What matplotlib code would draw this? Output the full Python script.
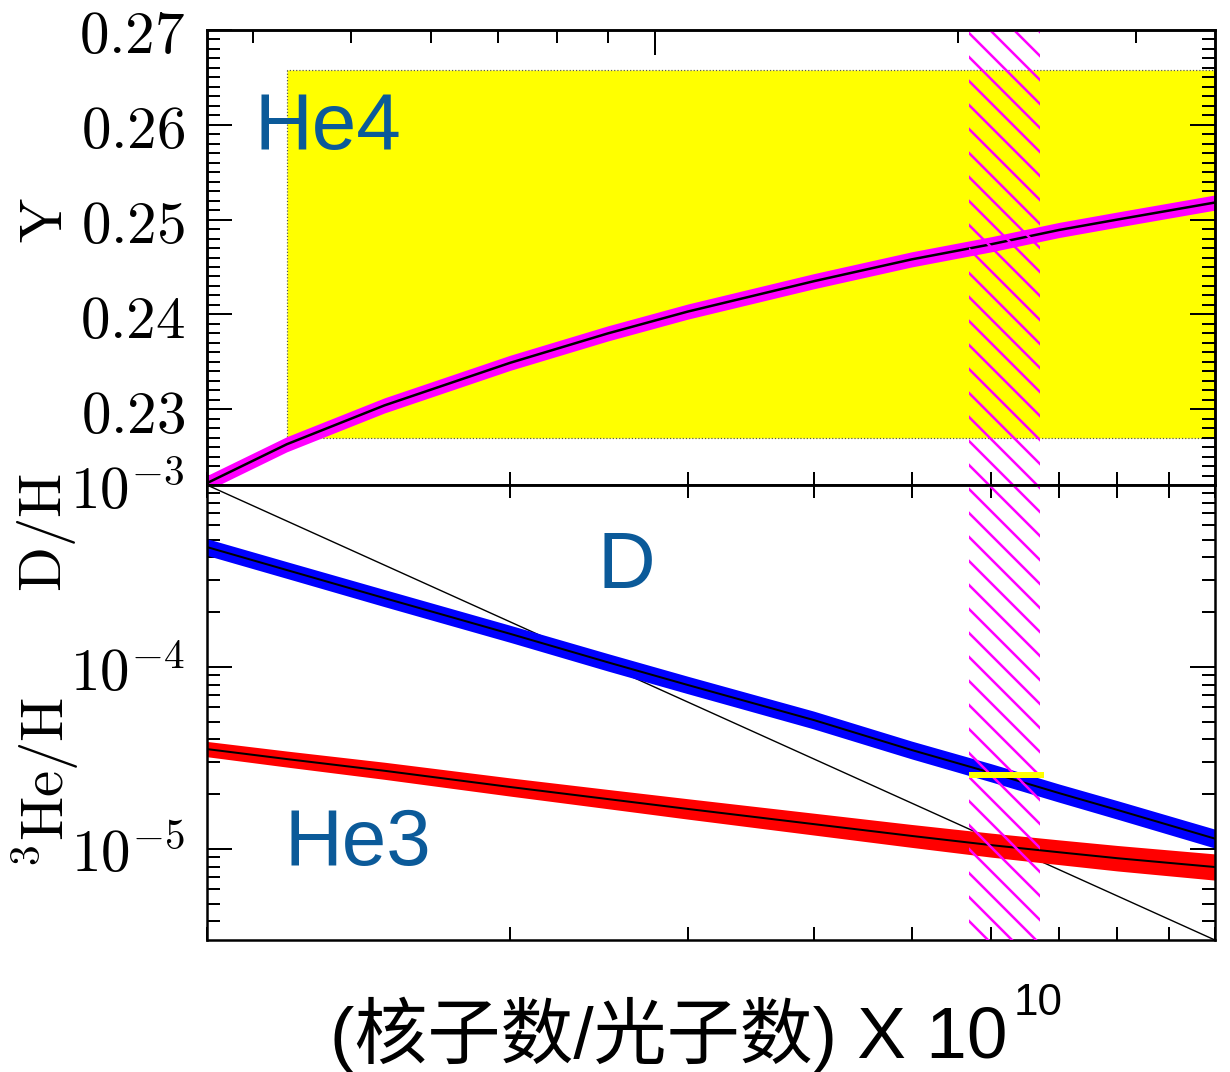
import matplotlib
matplotlib.use("Agg")
import matplotlib.pyplot as plt
import numpy as np
from matplotlib.ticker import FixedLocator, FuncFormatter, LogLocator, MultipleLocator, NullFormatter

plt.rcParams['font.family'] = ['Noto Sans CJK SC', 'DejaVu Sans']
plt.rcParams['mathtext.fontset'] = 'cm'
plt.rcParams['hatch.linewidth'] = 2.5

# baryon-to-photon ratio x 10^10
eta = [1.0, 1.2, 1.5, 2.0, 2.5, 3.0, 4.0, 5.0, 6.0, 7.0, 8.0, 10.0]

# He4 mass fraction
he4 = [0.2222, 0.2263, 0.2304, 0.2349, 0.2380, 0.2403, 0.2435, 0.2458, 0.2474, 0.2489, 0.2500, 0.2518]
he4_err = [0.0008, 0.0008, 0.0008, 0.0008, 0.0008, 0.0008, 0.0008, 0.0008, 0.0008, 0.0008, 0.0008, 0.0008]

# D/H and He3/H, errors in dex
dh = [4.56e-4, 3.41e-4, 2.39e-4, 1.52e-4, 1.06e-4, 7.96e-5, 5.11e-5, 3.50e-5, 2.62e-5, 2.03e-5, 1.64e-5, 1.14e-5]
dh_err = [0.046, 0.046, 0.047, 0.047, 0.048, 0.048, 0.049, 0.049, 0.050, 0.050, 0.051, 0.052]
he3 = [3.54e-5, 3.12e-5, 2.69e-5, 2.19e-5, 1.88e-5, 1.66e-5, 1.37e-5, 1.18e-5, 1.05e-5, 9.6e-6, 8.9e-6, 7.96e-6]
he3_err = [0.042, 0.044, 0.047, 0.050, 0.053, 0.056, 0.060, 0.063, 0.066, 0.068, 0.070, 0.072]

# thin diagonal reference line
diag_eta = [1.0, 10.0]
diag_y = [1e-3, 3.16e-6]

# observations
he4_obs_eta = [1.2, 10.0]
he4_obs = [0.2270, 0.2658]
cmb_eta = [5.70, 6.70]
d_obs_eta = [5.70, 6.77]
d_obs = [2.55e-5, 2.55e-5]

he4_ticks = [0.23, 0.24, 0.25, 0.26, 0.27]
omega_major = [0.01]
omega_minor = [0.004, 0.005, 0.006, 0.007, 0.008, 0.009, 0.02, 0.03]
ETA_PER_OMEGA = 278.0

W, H = 1230, 1072
fig = plt.figure(figsize=(W / 72, H / 72), dpi=72)
ax1 = fig.add_axes([207 / W, 1 - 485 / H, 1008 / W, 455 / H])
ax2 = fig.add_axes([207 / W, 1 - 940 / H, 1008 / W, 455 / H])

lab_size = 59
blue_txt = '#0B5A99'
tick_w = 2

# ---- top panel: He4
ax1.set_xscale('log')
ax1.set_xlim(1, 10)
ax1.set_ylim(0.222, 0.27)
ax1.fill_between(he4_obs_eta, he4_obs[0], he4_obs[1], facecolor='#FFFF00',
                 edgecolor='#555555', linestyle=':', linewidth=1.2, zorder=1)
he4_a = np.array(he4)
he4_e = np.array(he4_err)
ax1.fill_between(eta, he4_a - he4_e, he4_a + he4_e, color='#FF00FF', linewidth=0, zorder=2)
ax1.plot(eta, he4, color='black', lw=2.5, zorder=3)
ax1.axvspan(cmb_eta[0], cmb_eta[1], facecolor='none', edgecolor='#FF00FF', linewidth=0,
            hatch='\\', zorder=4)

ax1.yaxis.set_major_locator(FixedLocator(he4_ticks))
ax1.yaxis.set_minor_locator(MultipleLocator(0.001))
ax1.yaxis.set_major_formatter(FuncFormatter(lambda v, p: rf'${v:.2f}$'))
ax1.tick_params(axis='y', which='both', direction='in', left=True, right=True, width=tick_w)
ax1.tick_params(axis='y', which='major', length=25, labelsize=lab_size, pad=22)
ax1.tick_params(axis='y', which='minor', length=13)
ax1.tick_params(axis='x', which='both', direction='in', top=False, bottom=True,
                labelbottom=False, width=tick_w, length=13)
ax1.text(0.047, 0.738, 'He4', transform=ax1.transAxes, fontsize=80, color=blue_txt,
         family='Liberation Sans', va='baseline', zorder=6)

# top axis in Omega_b h^2
top = ax1.twiny()
top.set_xscale('log')
top.set_xlim(1 / ETA_PER_OMEGA, 10 / ETA_PER_OMEGA)
top.xaxis.set_major_locator(FixedLocator(omega_major))
top.xaxis.set_minor_locator(FixedLocator(omega_minor))
top.xaxis.set_major_formatter(NullFormatter())
top.xaxis.set_minor_formatter(NullFormatter())
top.tick_params(axis='x', which='both', direction='in', top=True, bottom=False, width=tick_w)
top.tick_params(axis='x', which='major', length=25)
top.tick_params(axis='x', which='minor', length=13)

# ---- bottom panel: D and He3
ax2.set_xscale('log')
ax2.set_yscale('log')
ax2.set_xlim(1, 10)
ax2.set_ylim(10 ** -5.5, 1e-3)
ax2.plot(diag_eta, diag_y, color='black', lw=1.4, zorder=2)
dh_a = np.array(dh)
dh_e = np.array(dh_err)
ax2.fill_between(eta, dh_a * 10 ** -dh_e, dh_a * 10 ** dh_e, color='#0000FF', linewidth=0, zorder=2)
ax2.plot(eta, dh, color='black', lw=2, zorder=3)
he3_a = np.array(he3)
he3_e = np.array(he3_err)
ax2.fill_between(eta, he3_a * 10 ** -he3_e, he3_a * 10 ** he3_e, color='#FF0000', linewidth=0, zorder=2)
ax2.plot(eta, he3, color='black', lw=2, zorder=3)
ax2.axvspan(cmb_eta[0], cmb_eta[1], facecolor='none', edgecolor='#FF00FF', linewidth=0,
            hatch='\\', zorder=4)
ax2.plot(d_obs_eta, d_obs, color='#FFFF00', lw=6, solid_capstyle='butt', zorder=5)

ax2.yaxis.set_major_locator(LogLocator(base=10, numticks=10))
ax2.yaxis.set_minor_locator(LogLocator(base=10, subs=np.arange(2, 10), numticks=20))
ax2.yaxis.set_major_formatter(FuncFormatter(lambda v, p: rf'$10^{{{int(round(np.log10(v)))}}}$'))
ax2.yaxis.set_minor_formatter(NullFormatter())
ax2.tick_params(axis='y', which='both', direction='in', left=True, right=True, width=tick_w)
ax2.tick_params(axis='y', which='major', length=25, labelsize=lab_size, pad=22)
ax2.tick_params(axis='y', which='minor', length=13)
ax2.tick_params(axis='x', which='both', direction='in', top=True, bottom=True,
                labelbottom=False, width=tick_w, length=13)
ax2.text(0.387, 0.774, 'D', transform=ax2.transAxes, fontsize=80, color=blue_txt,
         family='Liberation Sans', va='baseline', zorder=6)
ax2.text(0.077, 0.165, 'He3', transform=ax2.transAxes, fontsize=80, color=blue_txt,
         family='Liberation Sans', va='baseline', zorder=6)

for ax in (ax1, ax2, top):
    for s in ax.spines.values():
        s.set_linewidth(2.5)
for ax in (ax1, ax2):
    ax.xaxis.set_minor_formatter(NullFormatter())
    ax.xaxis.set_major_formatter(NullFormatter())

# axis labels
fig.text(46 / W, 1 - 220 / H, r'$\mathrm{Y}$', rotation=90, ha='center', va='center', fontsize=lab_size)
fig.text(46 / W, 1 - 533 / H, r'$\mathrm{D/H}$', rotation=90, ha='center', va='center', fontsize=lab_size)
fig.text(46 / W, 1 - 782 / H, r'$^{3}\mathrm{He/H}$', rotation=90, ha='center', va='center', fontsize=lab_size)

xl = fig.text(669 / W, 1 - 1058 / H, '(核子数/光子数) X 10', ha='center', va='baseline',
              fontsize=73, family=['Liberation Sans', 'Noto Sans CJK SC'])
ax2.annotate('10', xy=(1, 1), xycoords=xl, xytext=(6, 14), textcoords='offset points',
             ha='left', va='top', fontsize=44, family='Liberation Sans', annotation_clip=False)

fig.savefig('out.png', dpi=72)
